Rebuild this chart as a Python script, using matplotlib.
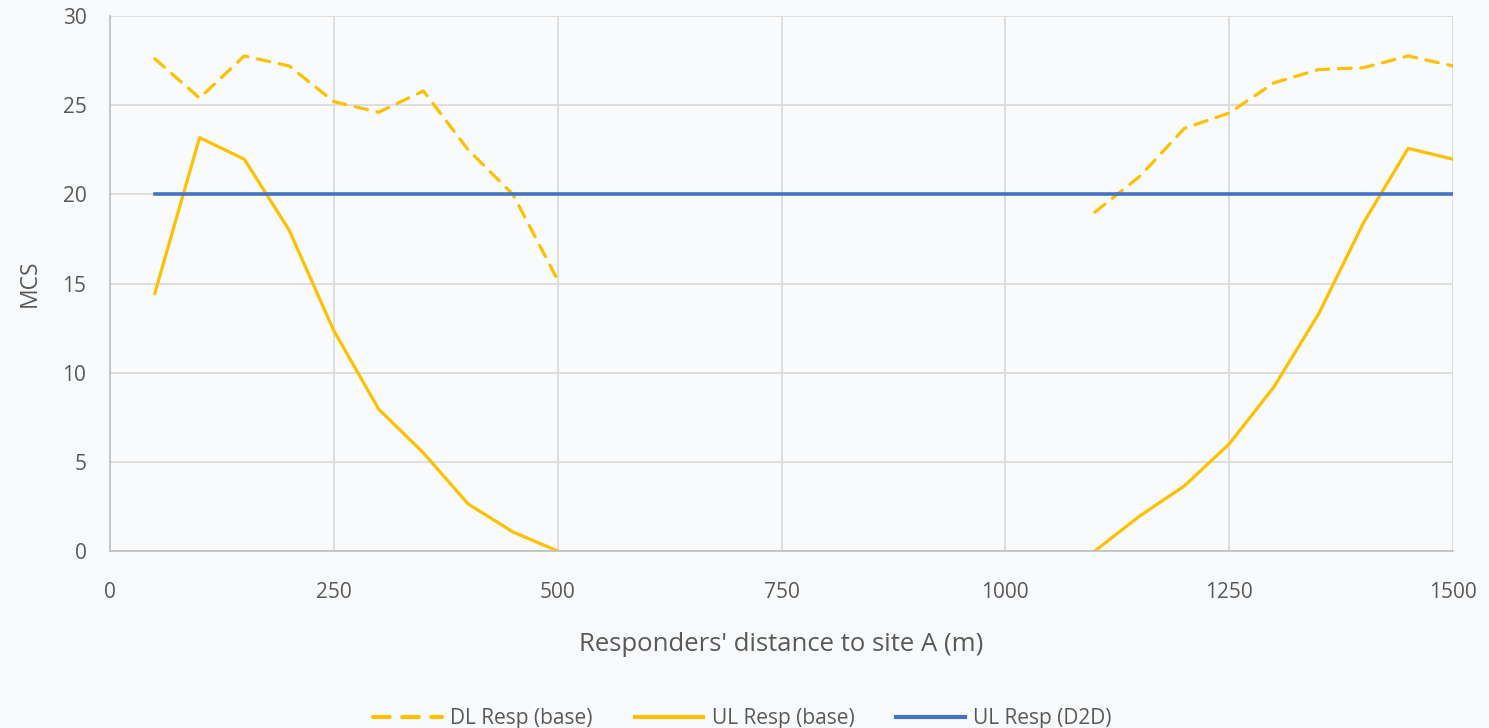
import numpy as np
import matplotlib.pyplot as plt

plt.rcParams['font.family'] = ['Open Sans', 'DejaVu Sans']

# distances (m)
dist_a = [50, 100, 150, 200, 250, 300, 350, 400, 450, 500]
dist_b = [1100, 1150, 1200, 1250, 1300, 1350, 1400, 1450, 1500]

# DL Resp (base)
dl_a = [27.6, 25.4, 27.76, 27.2, 25.2, 24.6, 25.8, 22.5, 20.0, 15.2]
dl_b = [19.0, 21.0, 23.7, 24.56, 26.25, 27.0, 27.1, 27.76, 27.2]

# UL Resp (base)
ul_a = [14.45, 23.18, 21.97, 18.0, 12.35, 7.96, 5.5, 2.64, 1.07, 0.0]
ul_b = [0.0, 1.96, 3.65, 6.0, 9.2, 13.3, 18.4, 22.58, 21.97]

# UL Resp (D2D)
d2d_x = [50, 1500]
d2d_y = [20, 20]

yellow = '#FFC000'
blue = '#4472C4'
txt = '#595959'

fig = plt.figure(figsize=(14.89, 7.28), dpi=100)
fig.patch.set_facecolor('#f9fafc')
ax = fig.add_axes([0.0739, 0.2431, 0.9019, 0.7349])
ax.set_facecolor('#f9fafc')

dash = (4, 3)
ax.plot(dist_a, dl_a, color=yellow, lw=2.3, dashes=dash, dash_capstyle='round',
        label='DL Resp (base)')
ax.plot(dist_b, dl_b, color=yellow, lw=2.3, dashes=dash, dash_capstyle='round')
ax.plot(dist_a, ul_a, color=yellow, lw=2.3, label='UL Resp (base)')
ax.plot(dist_b, ul_b, color=yellow, lw=2.3)
ax.plot(d2d_x, d2d_y, color=blue, lw=2.6, label='UL Resp (D2D)')

ax.set_xlim(0, 1500)
ax.set_ylim(0, 30)
ax.set_xticks([0, 250, 500, 750, 1000, 1250, 1500])
ax.set_yticks([0, 5, 10, 15, 20, 25, 30])
ax.grid(True, color='#d9d9d9', lw=1.2)
ax.set_axisbelow(True)
for s in ['top', 'right']:
    ax.spines[s].set_visible(False)
for s in ['left', 'bottom']:
    ax.spines[s].set_color('#bfbfbf')
    ax.spines[s].set_linewidth(1.2)
ax.tick_params(length=0, labelsize=15, labelcolor=txt)
ax.tick_params(axis='x', pad=22)
ax.tick_params(axis='y', pad=17)

ax.set_xlabel("Responders' distance to site A (m)", fontsize=18.5, color=txt, labelpad=21)
ax.set_ylabel('MCS', fontsize=16.5, color=txt, labelpad=15)

leg = ax.legend(loc='center', bbox_to_anchor=(0.471, -0.3136), ncol=3, frameon=False,
                fontsize=15, labelcolor=txt, handlelength=3.3, columnspacing=2.0,
                handletextpad=0.4)
# thicker legend handles, as in the reference
for line in leg.get_lines():
    line.set_linewidth(3.0)

fig.savefig('out.png', dpi=100, facecolor=fig.get_facecolor())
